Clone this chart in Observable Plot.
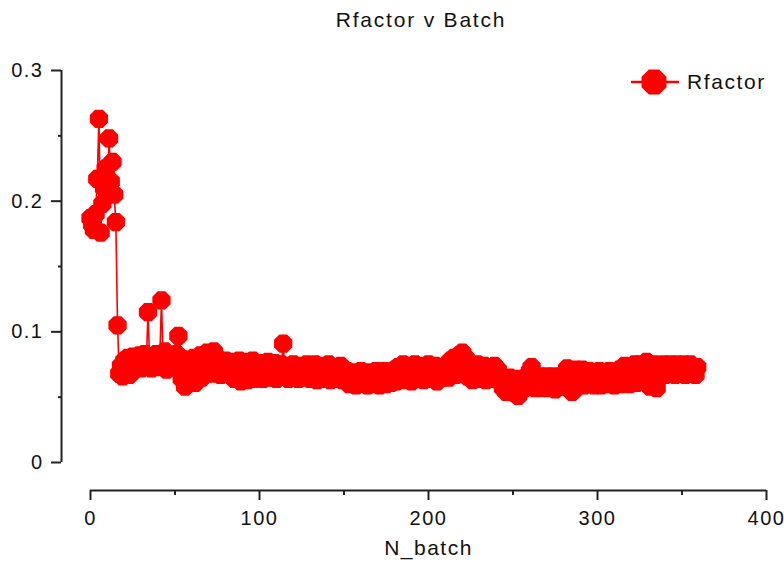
<!DOCTYPE html>
<html>
<head>
<meta charset="utf-8">
<script src="https://cdn.jsdelivr.net/npm/d3@7"></script>
<script src="https://cdn.jsdelivr.net/npm/@observablehq/plot@0.6"></script>
<style>
  body { margin: 0; background: #fff; }
  #wrap { position: relative; width: 784px; height: 568px; font-family: "Liberation Sans", Arial, sans-serif; color: #111; }
  #title { height: 40px; line-height: 40px; font-size: 21px; letter-spacing: 1.8px; text-align: center; padding-left: 58px; box-sizing: border-box; }
  #legend { position: absolute; left: 629px; top: 67px; display: flex; align-items: center; font-size: 21px; letter-spacing: 1.6px; }
  #legend span { margin-left: 4px; }
</style>
</head>
<body>
<div id="wrap">
  <div id="title">Rfactor v Batch</div>
  <div id="chart"></div>
  <div id="legend"></div>
</div>
<script>
const seriesName = "Rfactor";
const xLabel = "N_batch";
const xTicks = [0, 100, 200, 300, 400];
const xMinorTicks = [50, 150, 250, 350];
const yTicks = [0, 0.1, 0.2, 0.3];
const yMinorTicks = [0.05, 0.15, 0.25];

// Rfactor per batch, N_batch = 0 .. 359
const rfactor = [
  0.187, 0.182, 0.178, 0.190, 0.217, 0.263, 0.176, 0.198, 0.210, 0.225,
  0.205, 0.248, 0.215, 0.230, 0.205, 0.184, 0.105, 0.068, 0.074, 0.066,
  0.078, 0.070, 0.080, 0.067, 0.076, 0.081, 0.071, 0.078, 0.073, 0.082,
  0.072, 0.079, 0.083, 0.074, 0.115, 0.078, 0.072, 0.081, 0.075, 0.083,
  0.073, 0.080, 0.124, 0.076, 0.085, 0.071, 0.079, 0.082, 0.073, 0.080,
  0.075, 0.083, 0.097, 0.070, 0.064, 0.079, 0.058, 0.070, 0.062, 0.075,
  0.066, 0.080, 0.061, 0.074, 0.068, 0.082, 0.065, 0.078, 0.070, 0.084,
  0.072, 0.080, 0.068, 0.085, 0.076, 0.069, 0.079, 0.067, 0.076, 0.070,
  0.078, 0.068, 0.075, 0.067, 0.077, 0.064, 0.073, 0.066, 0.078, 0.062,
  0.072, 0.065, 0.077, 0.063, 0.074, 0.067, 0.078, 0.064, 0.072, 0.075,
  0.066, 0.076, 0.064, 0.073, 0.068, 0.077, 0.065, 0.074, 0.067, 0.076,
  0.064, 0.073, 0.068, 0.075, 0.091, 0.066, 0.074, 0.064, 0.072, 0.067,
  0.075, 0.065, 0.071, 0.064, 0.074, 0.067, 0.072, 0.065, 0.075, 0.068,
  0.064, 0.073, 0.066, 0.075, 0.063, 0.071, 0.067, 0.074, 0.064, 0.072,
  0.066, 0.075, 0.063, 0.070, 0.073, 0.064, 0.072, 0.066, 0.074, 0.063,
  0.071, 0.065, 0.070, 0.060, 0.068, 0.063, 0.069, 0.059, 0.067, 0.062,
  0.070, 0.060, 0.066, 0.068, 0.059, 0.069, 0.062, 0.067, 0.060, 0.070,
  0.063, 0.059, 0.068, 0.062, 0.070, 0.060, 0.066, 0.069, 0.061, 0.067,
  0.071, 0.062, 0.073, 0.064, 0.069, 0.075, 0.063, 0.071, 0.065, 0.074,
  0.062, 0.070, 0.075, 0.064, 0.072, 0.066, 0.074, 0.063, 0.071, 0.067,
  0.075, 0.064, 0.072, 0.066, 0.074, 0.062, 0.070, 0.073, 0.065, 0.072,
  0.067, 0.075, 0.065, 0.078, 0.069, 0.080, 0.067, 0.076, 0.082, 0.070,
  0.084, 0.074, 0.080, 0.066, 0.076, 0.070, 0.063, 0.074, 0.067, 0.075,
  0.064, 0.072, 0.066, 0.074, 0.063, 0.071, 0.073, 0.064, 0.070, 0.074,
  0.065, 0.071, 0.062, 0.065, 0.057, 0.063, 0.054, 0.061, 0.065, 0.056,
  0.062, 0.053, 0.064, 0.051, 0.060, 0.055, 0.063, 0.057, 0.066, 0.058,
  0.070, 0.073, 0.062, 0.057, 0.065, 0.059, 0.066, 0.057, 0.064, 0.058,
  0.066, 0.057, 0.064, 0.059, 0.066, 0.056, 0.063, 0.065, 0.058, 0.066,
  0.059, 0.069, 0.072, 0.061, 0.056, 0.054, 0.066, 0.071, 0.058, 0.069,
  0.061, 0.071, 0.059, 0.068, 0.062, 0.070, 0.060, 0.067, 0.059, 0.069,
  0.061, 0.070, 0.059, 0.068, 0.063, 0.069, 0.060, 0.070, 0.062, 0.067,
  0.059, 0.069, 0.063, 0.071, 0.060, 0.068, 0.074, 0.062, 0.071, 0.060,
  0.073, 0.064, 0.075, 0.061, 0.070, 0.075, 0.063, 0.072, 0.066, 0.077,
  0.069, 0.058, 0.074, 0.064, 0.075, 0.057, 0.069, 0.073, 0.067, 0.075,
  0.067, 0.074, 0.069, 0.075, 0.068, 0.073, 0.067, 0.075, 0.069, 0.074,
  0.068, 0.075, 0.067, 0.074, 0.069, 0.075, 0.068, 0.073, 0.067, 0.073
];
const batches = rfactor.map((_, i) => i);
const data = batches.map((b, i) => ({batch: b, r: rfactor[i]}));

const red = "#ff0000";
const axisColor = "#222";

const octagon = {
  draw(context, size) {
    const R = Math.sqrt(size / Math.PI) * 1.04;
    for (let k = 0; k < 8; ++k) {
      const a = Math.PI / 8 + k * Math.PI / 4;
      const px = R * Math.cos(a), py = R * Math.sin(a);
      if (k === 0) context.moveTo(px, py); else context.lineTo(px, py);
    }
    context.closePath();
  }
};

const chart = Plot.plot({
  width: 784,
  height: 528,
  marginTop: 30,
  marginBottom: 106,
  marginLeft: 90,
  marginRight: 18,
  style: {fontFamily: "'Liberation Sans', Arial, sans-serif", fontSize: "20px", letterSpacing: "1.5px", color: "#111", background: "#fff"},
  x: {domain: [0, 400]},
  y: {domain: [0, 0.3]},
  marks: [
    Plot.ruleY([0], {dy: 28, stroke: axisColor, strokeWidth: 2}),
    Plot.ruleX([0], {dx: -29, stroke: axisColor, strokeWidth: 2}),
    Plot.axisX({ticks: xTicks, tickSize: 10, tickPadding: 10, dy: 28, stroke: axisColor, strokeWidth: 2, label: null, tickFormat: d3.format("d")}),
    Plot.axisX({ticks: xMinorTicks, tickSize: 5, dy: 28, stroke: axisColor, strokeWidth: 2, label: null, tickFormat: () => ""}),
    Plot.axisY({ticks: yTicks, tickSize: 10, tickPadding: 8, dx: -29, stroke: axisColor, strokeWidth: 2, label: null, tickFormat: d => d === 0 ? "0" : d3.format(".1f")(d)}),
    Plot.axisY({ticks: yMinorTicks, tickSize: 3, dx: -29, stroke: axisColor, strokeWidth: 2, label: null, tickFormat: () => ""}),
    Plot.text([xLabel], {frameAnchor: "bottom", dy: 92, fontSize: 21, fill: "#111"}),
    Plot.line(data, {x: "batch", y: "r", stroke: red, strokeWidth: 1.6}),
    Plot.dot(data, {x: "batch", y: "r", r: 9.5, symbol: octagon, fill: red, stroke: "none"})
  ]
});
document.getElementById("chart").appendChild(chart);

// legend
const leg = document.getElementById("legend");
leg.innerHTML = `<svg width="54" height="30" viewBox="0 0 54 30">
  <line x1="2" y1="15" x2="50" y2="15" stroke="${red}" stroke-width="2.5"></line>
  <path d="${d3.range(8).map(k => { const a = Math.PI/8 + k*Math.PI/4; return (k ? "L" : "M") + (25 + 13.5*Math.cos(a)).toFixed(2) + "," + (15 + 13.5*Math.sin(a)).toFixed(2); }).join("")}Z" fill="${red}"></path>
</svg><span>${seriesName}</span>`;
</script>
</body>
</html>
